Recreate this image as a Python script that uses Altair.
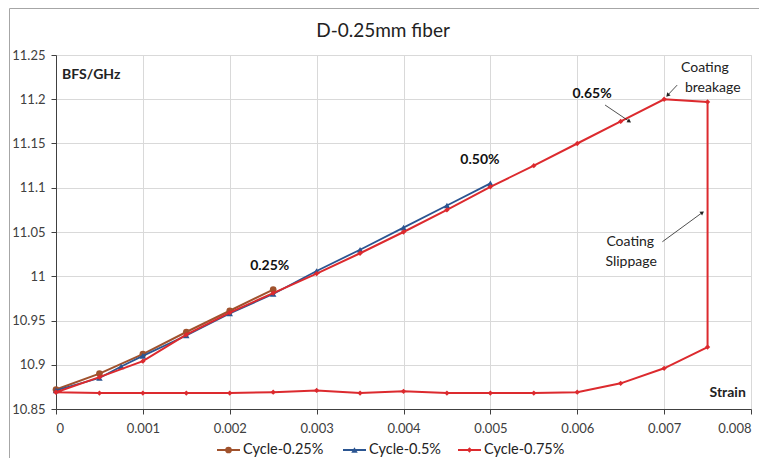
import altair as alt
import pandas as pd
import math

# ---------------- data ----------------
strain_025 = [0, 0.0005, 0.001, 0.0015, 0.002, 0.0025]
bfs_025 = [10.872, 10.890, 10.912, 10.937, 10.961, 10.985]

strain_05 = [0, 0.0005, 0.00075, 0.001, 0.0015, 0.002, 0.0025, 0.003, 0.0035, 0.004, 0.0045, 0.005]
bfs_05 = [10.871, 10.885, 10.898, 10.910, 10.933, 10.958, 10.980, 11.006, 11.030, 11.055, 11.080, 11.105]

strain_075 = [0, 0.0005, 0.001, 0.0015, 0.002, 0.0025, 0.003, 0.0035, 0.004, 0.0045, 0.005,
              0.0055, 0.006, 0.0065, 0.007, 0.0075,
              0.0075, 0.007, 0.0065, 0.006, 0.0055, 0.005, 0.0045, 0.004, 0.0035, 0.003,
              0.0025, 0.002, 0.0015, 0.001, 0.0005, 0]
bfs_075 = [10.869, 10.886, 10.904, 10.934, 10.959, 10.981, 11.003, 11.026, 11.050, 11.075, 11.101,
           11.125, 11.150, 11.175, 11.200, 11.197,
           10.920, 10.896, 10.879, 10.869, 10.868, 10.868, 10.868, 10.870, 10.868, 10.871,
           10.869, 10.868, 10.868, 10.868, 10.868, 10.869]

series_names = ["Cycle-0.25%", "Cycle-0.5%", "Cycle-0.75%"]
series_colors = ["#A0522D", "#2B5591", "#DC2A2E"]
series_shapes = ["circle", "triangle-up", "diamond"]

x_ticks = [0, 0.001, 0.002, 0.003, 0.004, 0.005, 0.006, 0.007, 0.008]
y_ticks = [10.85, 10.9, 10.95, 11.0, 11.05, 11.1, 11.15, 11.2, 11.25]

# annotations (data coordinates)
bold_labels = ["0.25%", "0.50%", "0.65%"]
bold_x = [0.00246, 0.00488, 0.00617]
bold_y = [11.012, 11.131, 11.206]

plain_labels = ["Coating", "breakage", "Coating", "Slippage"]
plain_x = [0.00747, 0.00756, 0.00661, 0.00662]
plain_y = [11.235, 11.213, 11.039, 11.016]

arrow_x1 = [0.00632, 0.00715, 0.00698]
arrow_y1 = [11.1935, 11.216, 11.039]
arrow_x2 = [0.00660, 0.00704, 0.00744]
arrow_y2 = [11.175, 11.2045, 11.072]

title_text = "D-0.25mm fiber"

FONT = "Lato"
W, H = 695, 354

# ---------------- tables ----------------
rows = []
for name, xs, ys in zip(series_names, [strain_025, strain_05, strain_075], [bfs_025, bfs_05, bfs_075]):
    for i, (x, y) in enumerate(zip(xs, ys)):
        rows.append({"series": name, "strain": x, "bfs": y, "order": i})
df = pd.DataFrame(rows)

xscale = alt.Scale(domain=[0, 0.008], nice=False)
yscale = alt.Scale(domain=[10.85, 11.25], nice=False, zero=False)

x_enc = alt.X("strain:Q", scale=xscale, axis=alt.Axis(
    values=x_ticks, format=".3~f", title=None, grid=True, gridColor="#D9D9D9",
    domainColor="#404040", tickColor="#404040", tickSize=5, labelPadding=8,
    labelFontSize=13, labelColor="#404040", labelFont=FONT))
y_enc = alt.Y("bfs:Q", scale=yscale, axis=alt.Axis(
    values=y_ticks, format=".4~f", title=None, grid=True, gridColor="#D9D9D9",
    domainColor="#404040", tickColor="#404040", tickSize=5, labelPadding=6,
    labelFontSize=13, labelColor="#404040", labelFont=FONT))

layers = []
for name, col, shp, sw, sz in zip(series_names, series_colors, series_shapes,
                                  [2, 1.8, 2], [45, 42, 28]):
    sub = df[df.series == name]
    base = alt.Chart(sub)
    layers.append(base.mark_line(color=col, strokeWidth=sw).encode(
        x=x_enc, y=y_enc, order="order:Q"))
    layers.append(base.mark_point(filled=True, color=col, shape=shp, size=sz, opacity=1).encode(
        x="strain:Q", y="bfs:Q"))

# annotations
bold_df = pd.DataFrame({"t": bold_labels, "x": bold_x, "y": bold_y})
plain_df = pd.DataFrame({"t": plain_labels, "x": plain_x, "y": plain_y})
arrow_df = pd.DataFrame({"x": arrow_x1, "y": arrow_y1, "x2": arrow_x2, "y2": arrow_y2})

angles = []
for a, b, c, d in zip(arrow_x1, arrow_y1, arrow_x2, arrow_y2):
    dx = (c - a) / 0.008 * W
    dy = -(d - b) / 0.4 * H
    angles.append(math.degrees(math.atan2(dx, -dy)) % 360)
arrow_df["angle"] = angles

layers.append(alt.Chart(bold_df).mark_text(font=FONT, fontSize=14, fontWeight="bold", color="#111111").encode(
    x="x:Q", y="y:Q", text="t:N"))
layers.append(alt.Chart(plain_df).mark_text(font=FONT, fontSize=14, color="#222222").encode(
    x="x:Q", y="y:Q", text="t:N"))
layers.append(alt.Chart(arrow_df).mark_rule(color="#222222", strokeWidth=0.8).encode(
    x="x:Q", y="y:Q", x2="x2:Q", y2="y2:Q"))
layers.append(alt.Chart(arrow_df).mark_point(shape="triangle-up", filled=True, color="#222222", size=20, opacity=1).encode(
    x="x2:Q", y="y2:Q", angle=alt.Angle("angle:Q", scale=None)))

# axis titles inside the plot
ax_df = pd.DataFrame({"t": ["BFS/GHz", "Strain"], "x": [0.00007, 0.00794], "y": [11.227, 10.868],
                      "a": ["left", "right"]})
layers.append(alt.Chart(ax_df[ax_df.a == "left"]).mark_text(font=FONT, fontSize=14, fontWeight="bold",
                                                             color="#222222", align="left").encode(
    x="x:Q", y="y:Q", text="t:N"))
layers.append(alt.Chart(ax_df[ax_df.a == "right"]).mark_text(font=FONT, fontSize=14, fontWeight="bold",
                                                              color="#222222", align="right").encode(
    x="x:Q", y="y:Q", text="t:N"))

# chart title
title_df = pd.DataFrame({"t": [title_text]})
layers.append(alt.Chart(title_df).mark_text(font=FONT, fontSize=19, color="#222222", baseline="alphabetic").encode(
    x=alt.value(327), y=alt.value(-18), text="t:N"))

# manual legend (below the plot)
leg_df = pd.DataFrame({"series": series_names, "lx": [161, 287, 402]})
for i, name in enumerate(series_names):
    lx = int(leg_df.lx[i])
    col = series_colors[i]
    one = alt.Chart(leg_df.iloc[[i]])
    layers.append(one.mark_rule(color=col, strokeWidth=2).encode(
        x=alt.value(lx), x2=alt.value(lx + 23), y=alt.value(395)))
    layers.append(one.mark_point(filled=True, color=col, shape=series_shapes[i],
                                 size=[45, 42, 28][i], opacity=1).encode(
        x=alt.value(lx + 11.5), y=alt.value(395)))
    layers.append(one.mark_text(font=FONT, fontSize=14.5, color="#222222", align="left").encode(
        x=alt.value(lx + 26), y=alt.value(395), text="series:N"))

# outer border
layers.append(alt.Chart(leg_df.iloc[[0]]).mark_rect(fill=None, stroke="#A6A6A6", strokeWidth=1).encode(
    x=alt.value(-46.5), x2=alt.value(712), y=alt.value(-46.5), y2=alt.value(420)))

chart = alt.layer(*layers).properties(
    width=W, height=H,
    autosize=alt.AutoSizeParams(type="none"),
    padding={"left": 48, "top": 47, "right": 8, "bottom": 49},
).configure_view(stroke="#D9D9D9").configure(background="white")

chart.save("out.html", embed_options={"renderer": "svg", "actions": False})
